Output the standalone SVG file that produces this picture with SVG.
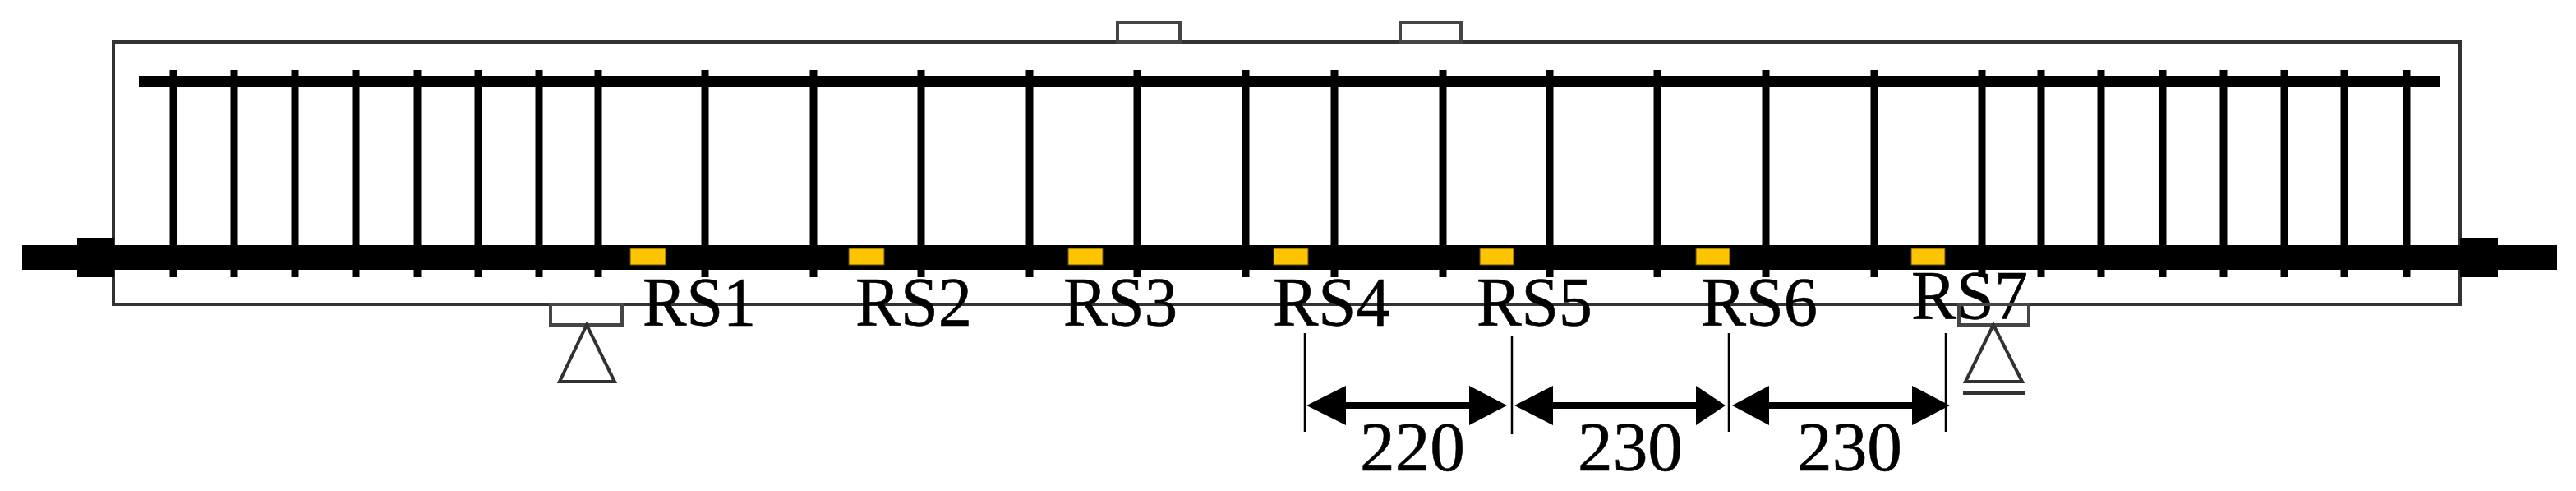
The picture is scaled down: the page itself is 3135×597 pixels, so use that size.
<svg xmlns="http://www.w3.org/2000/svg" width="3135" height="597" viewBox="0 0 3135 597">
<style>
.outline{fill:none;stroke:#333;stroke-width:4}
.plate{fill:none;stroke:#444;stroke-width:4}
.stirrup{stroke:#000;stroke-width:9}
.gauge{fill:#ffc400;stroke:#5a4a00;stroke-width:1}
.dim{stroke:#000;stroke-width:2.5}
.shaft{stroke:#000;stroke-width:8}
text{font-family:"Liberation Serif","Times New Roman",serif;font-size:84px;fill:#000;stroke:#000;stroke-width:.6}
</style>
<defs>
<filter id="soft" x="-2%" y="-5%" width="104%" height="110%"><feGaussianBlur stdDeviation="0.7"/></filter>
</defs>
<rect width="3135" height="597" fill="#fff"/>
<g filter="url(#soft)">
<g id="beam"><rect class="outline" x="138" y="51" width="2856" height="319"/></g>
<g id="load-plates">
<rect class="plate" x="1360" y="27" width="76" height="24"/>
<rect class="plate" x="1704" y="27" width="74" height="24"/>
</g>
<g id="top-bar"><rect x="169" y="93" width="2801" height="13"/></g>
<g id="stirrups">
<path class="stirrup" d="M211 85V337M285 85V337M359 85V337M433 85V337M508 85V337M582 85V337M656 85V337M728 85V337M858 85V337M990 85V337M1121 85V337M1253 85V337M1384 85V337M1516 85V337M1624 85V337M1756 85V337M1886 85V337M2017 85V337M2149 85V337M2281 85V337M2412 85V337M2484 85V337M2557 85V337M2632 85V337M2706 85V337M2780 85V337M2853 85V337M2929 85V337"/>
</g>
<g id="main-bar">
<rect x="27" y="298" width="3085" height="30"/>
<rect x="94" y="289" width="45" height="48"/>
<rect x="2994" y="289" width="46" height="48"/>
</g>
<g id="gauges">
<rect class="gauge" x="767" y="302" width="43" height="20"/>
<rect class="gauge" x="1033" y="302" width="43" height="20"/>
<rect class="gauge" x="1300" y="302" width="42" height="20"/>
<rect class="gauge" x="1550" y="302" width="42" height="20"/>
<rect class="gauge" x="1801" y="302" width="41" height="20"/>
<rect class="gauge" x="2064" y="302" width="41" height="20"/>
<rect class="gauge" x="2326" y="302" width="41" height="20"/>
</g>
<g id="labels">
<text x="782" y="396" textLength="138" lengthAdjust="spacingAndGlyphs">RS1</text>
<text x="1041" y="396" textLength="142" lengthAdjust="spacingAndGlyphs">RS2</text>
<text x="1294" y="396" textLength="139" lengthAdjust="spacingAndGlyphs">RS3</text>
<text x="1549" y="396" textLength="143" lengthAdjust="spacingAndGlyphs">RS4</text>
<text x="1797" y="396" textLength="141" lengthAdjust="spacingAndGlyphs">RS5</text>
<text x="2070" y="396" textLength="142" lengthAdjust="spacingAndGlyphs">RS6</text>
<text x="2326" y="388" textLength="142" lengthAdjust="spacingAndGlyphs">RS7</text>
<text x="1655" y="572" textLength="128" lengthAdjust="spacingAndGlyphs">220</text>
<text x="1920" y="572" textLength="128" lengthAdjust="spacingAndGlyphs">230</text>
<text x="2187" y="572" textLength="128" lengthAdjust="spacingAndGlyphs">230</text>
</g>
<g id="support-left">
<rect class="plate" x="670" y="370" width="87" height="25"/>
<path class="outline" d="M714 395L681 464H748Z"/>
</g>
<g id="support-right">
<rect class="plate" x="2384" y="370" width="85" height="25"/>
<path class="outline" d="M2426 395L2392 464H2461Z"/>
<path class="outline" d="M2389 478H2465"/>
</g>
<g id="connectors">
<path class="dim" d="M1588 405V525M1840 409V528M2104 405V525M2368 405V525"/>
<path class="shaft" d="M1630 493H1795M1885 493H2070M2148 493H2335"/>
<path d="M1590 493L1638 469V517ZM1834 493L1788 469V517ZM1843 493L1890 469V517ZM2100 493L2064 469V517ZM2108 493L2153 469V517ZM2373 493L2327 469V517Z"/>
</g>
</g>
</svg>
